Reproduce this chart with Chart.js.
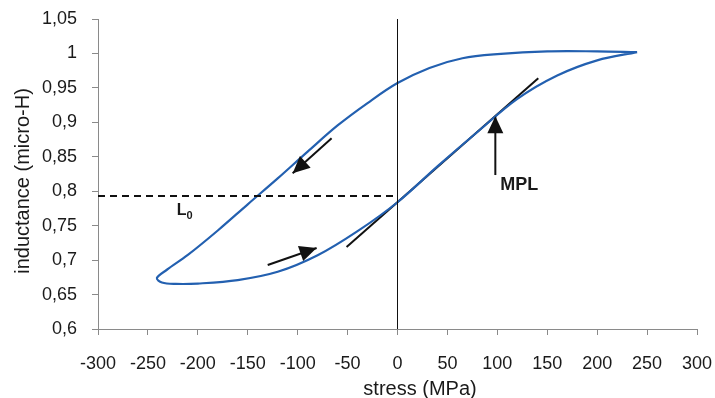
<!DOCTYPE html>
<html>
<head>
<meta charset="utf-8">
<script src="https://cdn.jsdelivr.net/npm/chart.js@4.4.1/dist/chart.umd.min.js"></script>
<style>
  html, body { margin: 0; padding: 0; background: #ffffff; }
  #wrap { width: 715px; height: 398px; }
</style>
</head>
<body>
<div id="wrap"><canvas id="c" width="715" height="398"></canvas></div>
<script>
// ---- data (stress in MPa, inductance in micro-H) ----
// hysteresis loop: upper branch (decreasing stress) then lower branch (increasing stress)
const loopStress = [240, 200, 150, 100, 65, 32, 0, -30, -60, -90, -120, -150, -180, -210, -231, -241,
                    -236, -222, -200, -160, -120, -80, -40, 0, 40, 80, 120, 160, 200, 240];
const loopInductance = [1.002, 1.003, 1.003, 0.999, 0.993, 0.979, 0.957, 0.928, 0.8955, 0.8575, 0.8186, 0.781, 0.743, 0.7075, 0.686, 0.674,
                        0.6675, 0.6655, 0.666, 0.671, 0.683, 0.707, 0.742, 0.784, 0.836, 0.886, 0.934, 0.968, 0.990, 1.002];
// tangent line at the maximum permeability point
const tangentStress = [-51, 141];
const tangentInductance = [0.719, 0.964];
// reference level L0 (dashed)
const refStress = [-300, 0];
const refInductance = [0.793, 0.793];
// vertical line at zero stress
const zeroStress = [0, 0];
const zeroInductance = [0.6, 1.05];
// arrows: [from, to] in data units
const arrowStart = [[-66, 0.877], [-130, 0.693], [98, 0.8235]];
const arrowEnd   = [[-105, 0.826], [-81, 0.7176], [98, 0.909]];
// tick labels
const xTickLabels = ['-300', '-250', '-200', '-150', '-100', '-50', '0', '50', '100', '150', '200', '250', '300'];
const yTickLabels = ['0,6', '0,65', '0,7', '0,75', '0,8', '0,85', '0,9', '0,95', '1', '1,05'];

const pts = (xs, ys) => xs.map((x, i) => ({ x: x, y: ys[i] }));
const FONT = '"Liberation Sans", Arial, sans-serif';
const TXT = '#1a1a1a';
const AXIS = '#8a8a8a';

const arrowDatasets = arrowStart.map((s, i) => ({
  data: [{ x: s[0], y: s[1] }, { x: arrowEnd[i][0], y: arrowEnd[i][1] }],
  borderColor: '#111111', borderWidth: 2, pointRadius: 0, tension: 0
}));

const overlay = {
  id: 'overlay',
  afterDatasetsDraw(chart) {
    const ctx = chart.ctx;
    const xs = chart.scales.x, ys = chart.scales.y;
    ctx.save();
    // arrow heads
    arrowStart.forEach((s, i) => {
      const x0 = xs.getPixelForValue(s[0]), y0 = ys.getPixelForValue(s[1]);
      const x1 = xs.getPixelForValue(arrowEnd[i][0]), y1 = ys.getPixelForValue(arrowEnd[i][1]);
      const a = Math.atan2(y1 - y0, x1 - x0);
      const L = 17, W = 8;
      const bx = x1 - L * Math.cos(a), by = y1 - L * Math.sin(a);
      ctx.beginPath();
      ctx.moveTo(x1, y1);
      ctx.lineTo(bx + W * Math.sin(a), by - W * Math.cos(a));
      ctx.lineTo(bx - W * Math.sin(a), by + W * Math.cos(a));
      ctx.closePath();
      ctx.fillStyle = '#111111';
      ctx.fill();
    });
    // annotations
    ctx.fillStyle = TXT;
    ctx.textBaseline = 'alphabetic';
    ctx.textAlign = 'left';
    ctx.font = 'bold 16px ' + FONT;
    const lx = xs.getPixelForValue(-221), ly = ys.getPixelForValue(0.766);
    ctx.fillText('L', lx, ly);
    ctx.font = 'bold 11px ' + FONT;
    ctx.fillText('0', lx + ctx.measureText('L').width + 3, ly + 4);
    ctx.font = 'bold 18px ' + FONT;
    ctx.fillText('MPL', xs.getPixelForValue(103), ys.getPixelForValue(0.802));
    // axis titles
    ctx.font = '20px ' + FONT;
    ctx.textAlign = 'center';
    ctx.fillText('stress (MPa)', 420, 395);
    ctx.translate(29, 181);
    ctx.rotate(-Math.PI / 2);
    ctx.fillText('inductance (micro-H)', 0, 0);
    ctx.restore();
  }
};

const noScalePadding = s => { s.paddingLeft = 0; s.paddingRight = 0; s.paddingTop = 0; s.paddingBottom = 0; };

new Chart(document.getElementById('c'), {
  type: 'line',
  data: {
    datasets: [
      { data: pts(zeroStress, zeroInductance), borderColor: '#111111', borderWidth: 1, pointRadius: 0, tension: 0 },
      { data: pts(refStress, refInductance), borderColor: '#111111', borderWidth: 2, borderDash: [7, 5], pointRadius: 0, tension: 0 },
      { data: pts(loopStress, loopInductance), borderColor: '#2360b0', borderWidth: 2.2, pointRadius: 0, tension: 0.35 },
      { data: pts(tangentStress, tangentInductance), borderColor: '#111111', borderWidth: 2, pointRadius: 0, tension: 0 }
    ].concat(arrowDatasets)
  },
  options: {
    responsive: false,
    devicePixelRatio: 1,
    animation: false,
    clip: false,
    layout: { padding: { left: 0, right: 18, top: 19, bottom: 0 } },
    plugins: { legend: { display: false }, tooltip: { enabled: false }, title: { display: false } },
    scales: {
      x: {
        type: 'linear', min: -300, max: 300,
        ticks: {
          stepSize: 50, autoSkip: false, maxRotation: 0, padding: 18,
          color: TXT, font: { size: 18, family: FONT },
          callback: (v, i) => xTickLabels[i]
        },
        grid: { display: true, drawOnChartArea: false, drawTicks: true, tickLength: 6, color: AXIS, lineWidth: 1 },
        border: { display: true, color: AXIS, width: 1 },
        afterFit: s => { s.height = 69; noScalePadding(s); }
      },
      y: {
        type: 'linear', min: 0.6, max: 1.05,
        ticks: {
          stepSize: 0.05, autoSkip: false, padding: 15,
          color: TXT, font: { size: 18, family: FONT },
          callback: (v, i) => yTickLabels[i]
        },
        grid: { display: true, drawOnChartArea: false, drawTicks: true, tickLength: 6, color: AXIS, lineWidth: 1 },
        border: { display: true, color: AXIS, width: 1 },
        afterFit: s => { s.width = 98; noScalePadding(s); }
      }
    }
  },
  plugins: [overlay]
});
</script>
</body>
</html>
